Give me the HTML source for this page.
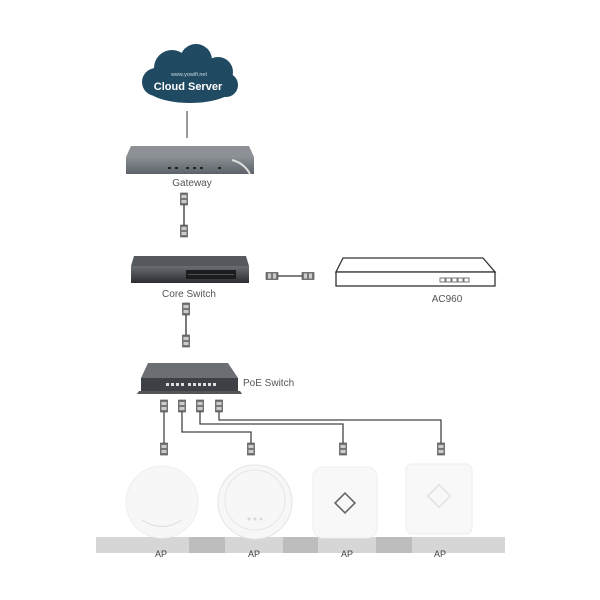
<!DOCTYPE html>
<html><head><meta charset="utf-8"><style>html,body{margin:0;padding:0;background:#fff}svg{display:block}text{font-family:"Liberation Sans",sans-serif}</style></head><body>
<svg width="600" height="600" viewBox="0 0 600 600" xmlns="http://www.w3.org/2000/svg">
<defs>
<linearGradient id="gw" x1="0" y1="0" x2="0" y2="1"><stop offset="0" stop-color="#8a8f94"/><stop offset="1" stop-color="#5d6268"/></linearGradient>
<linearGradient id="cs" x1="0" y1="0" x2="0" y2="1"><stop offset="0" stop-color="#6a6e72"/><stop offset="1" stop-color="#2b2d30"/></linearGradient>
<g id="plug"><rect x="-3.5" y="0" width="7" height="12" fill="#777" stroke="#444" stroke-width="0.6"/><rect x="-2.5" y="2" width="5" height="3" fill="#ccc"/><rect x="-2.5" y="7" width="5" height="3" fill="#ccc"/></g>
</defs>
<!-- cloud -->
<g fill="#1f4a61">
<ellipse cx="190" cy="85" rx="46" ry="18"/><circle cx="172" cy="68" r="18"/><circle cx="196" cy="60" r="16"/><circle cx="218" cy="72" r="15"/><circle cx="156" cy="82" r="14"/><circle cx="226" cy="85" r="12"/>
</g>
<text x="189" y="76" font-size="5.5" fill="#cfdbe3" text-anchor="middle">www.yowifi.net</text>
<text x="188" y="90" font-size="11" font-weight="bold" fill="#fff" text-anchor="middle">Cloud Server</text>
<line x1="187" y1="111" x2="187" y2="138" stroke="#777" stroke-width="1.5"/>
<!-- gateway -->
<polygon points="131,146 249,146 254,157 126,157" fill="#8d9196"/>
<rect x="126" y="157" width="128" height="17" fill="url(#gw)"/>
<g fill="#222"><rect x="168" y="167" width="3" height="2"/><rect x="175" y="167" width="3" height="2"/><rect x="186" y="167" width="3" height="2"/><rect x="193" y="167" width="3" height="2"/><rect x="200" y="167" width="3" height="2"/><rect x="218" y="167" width="3" height="2"/></g>
<path d="M232 160 Q244 163 250 174" stroke="#ddd" stroke-width="2" fill="none"/>
<text x="192" y="186" font-size="10" fill="#555" text-anchor="middle">Gateway</text>
<line x1="184" y1="200" x2="184" y2="228" stroke="#333" stroke-width="1.3"/>
<use href="#plug" x="184" y="193"/><use href="#plug" x="184" y="225"/>
<!-- core switch -->
<polygon points="134,256 246,256 249,266 131,266" fill="#55595d"/>
<rect x="131" y="266" width="118" height="17" fill="url(#cs)"/>
<rect x="186" y="270" width="50" height="9" fill="#1b1c1e"/>
<g stroke="#888" stroke-width="0.6"><line x1="188" y1="274.5" x2="234" y2="274.5"/></g>
<text x="189" y="297" font-size="10" fill="#555" text-anchor="middle">Core Switch</text>
<line x1="272" y1="276" x2="306" y2="276" stroke="#333" stroke-width="1.3"/>
<g transform="translate(266,276) rotate(-90)"><use href="#plug" x="0" y="0"/></g>
<g transform="translate(314,276) rotate(90)"><use href="#plug" x="0" y="0"/></g>
<!-- AC960 -->
<polygon points="343,258 483,258 495,272 336,272" fill="#fff" stroke="#333" stroke-width="1.3"/>
<rect x="336" y="272" width="159" height="14" fill="#fff" stroke="#333" stroke-width="1.3"/>
<g fill="none" stroke="#555" stroke-width="0.8"><rect x="440" y="278" width="5" height="4"/><rect x="446" y="278" width="5" height="4"/><rect x="452" y="278" width="5" height="4"/><rect x="458" y="278" width="5" height="4"/><rect x="464" y="278" width="5" height="4"/></g>
<text x="447" y="302" font-size="10" fill="#555" text-anchor="middle">AC960</text>
<line x1="186" y1="310" x2="186" y2="340" stroke="#333" stroke-width="1.3"/>
<use href="#plug" x="186" y="303"/><use href="#plug" x="186" y="335"/>
<!-- PoE switch -->
<polygon points="148,363 228,363 238,378 141,378" fill="#6b6f73"/>
<rect x="141" y="378" width="97" height="13" fill="#3d4044"/>
<polygon points="139,391 240,391 242,394 137,394" fill="#555"/>
<g fill="#ddd"><rect x="166" y="383" width="3" height="3"/><rect x="171" y="383" width="3" height="3"/><rect x="176" y="383" width="3" height="3"/><rect x="181" y="383" width="3" height="3"/><rect x="188" y="383" width="3" height="3"/><rect x="193" y="383" width="3" height="3"/><rect x="198" y="383" width="3" height="3"/><rect x="203" y="383" width="3" height="3"/><rect x="208" y="383" width="3" height="3"/><rect x="213" y="383" width="3" height="3"/></g>
<text x="243" y="386" font-size="10" fill="#555">PoE Switch</text>
<!-- PoE lines -->
<g stroke="#444" stroke-width="1.3" fill="none">
<path d="M164 410 V448"/>
<path d="M182 410 V432 H251 V443"/>
<path d="M200 410 V424 H343 V443"/>
<path d="M219 410 V420 H441 V443"/>
</g>
<use href="#plug" x="164" y="400"/><use href="#plug" x="182" y="400"/><use href="#plug" x="200" y="400"/><use href="#plug" x="219" y="400"/>
<use href="#plug" x="164" y="443"/><use href="#plug" x="251" y="443"/><use href="#plug" x="343" y="443"/><use href="#plug" x="441" y="443"/>
<!-- floor -->
<rect x="96" y="537" width="409" height="16" fill="#d6d6d6"/>
<rect x="189" y="537" width="36" height="16" fill="#bdbdbd"/>
<rect x="283" y="537" width="35" height="16" fill="#bdbdbd"/>
<rect x="376" y="537" width="36" height="16" fill="#bdbdbd"/>
<!-- APs -->
<circle cx="162" cy="502" r="36" fill="#f7f7f7" stroke="#eee"/>
<path d="M142 520 Q162 533 182 520" stroke="#ddd" fill="none"/>
<circle cx="255" cy="502" r="37" fill="#f7f7f7" stroke="#e4e4e4"/>
<circle cx="255" cy="500" r="30" fill="none" stroke="#e6e6e6"/>
<g fill="#d8d8d8"><circle cx="249" cy="519" r="1.5"/><circle cx="255" cy="519" r="1.5"/><circle cx="261" cy="519" r="1.5"/></g>
<rect x="313" y="467" width="64" height="71" rx="10" fill="#f8f8f8" stroke="#eee"/>
<rect x="338" y="496" width="14" height="14" fill="none" stroke="#666" stroke-width="1.6" transform="rotate(45 345 503)"/>
<rect x="406" y="464" width="66" height="70" rx="6" fill="#f8f8f8" stroke="#eee"/>
<rect x="431" y="488" width="16" height="16" fill="none" stroke="#ddd" stroke-width="1.2" transform="rotate(45 439 496)"/>
<g font-size="9" fill="#444" text-anchor="middle"><text x="161" y="557">AP</text><text x="254" y="557">AP</text><text x="347" y="557">AP</text><text x="440" y="557">AP</text></g>
</svg>
</body></html>
